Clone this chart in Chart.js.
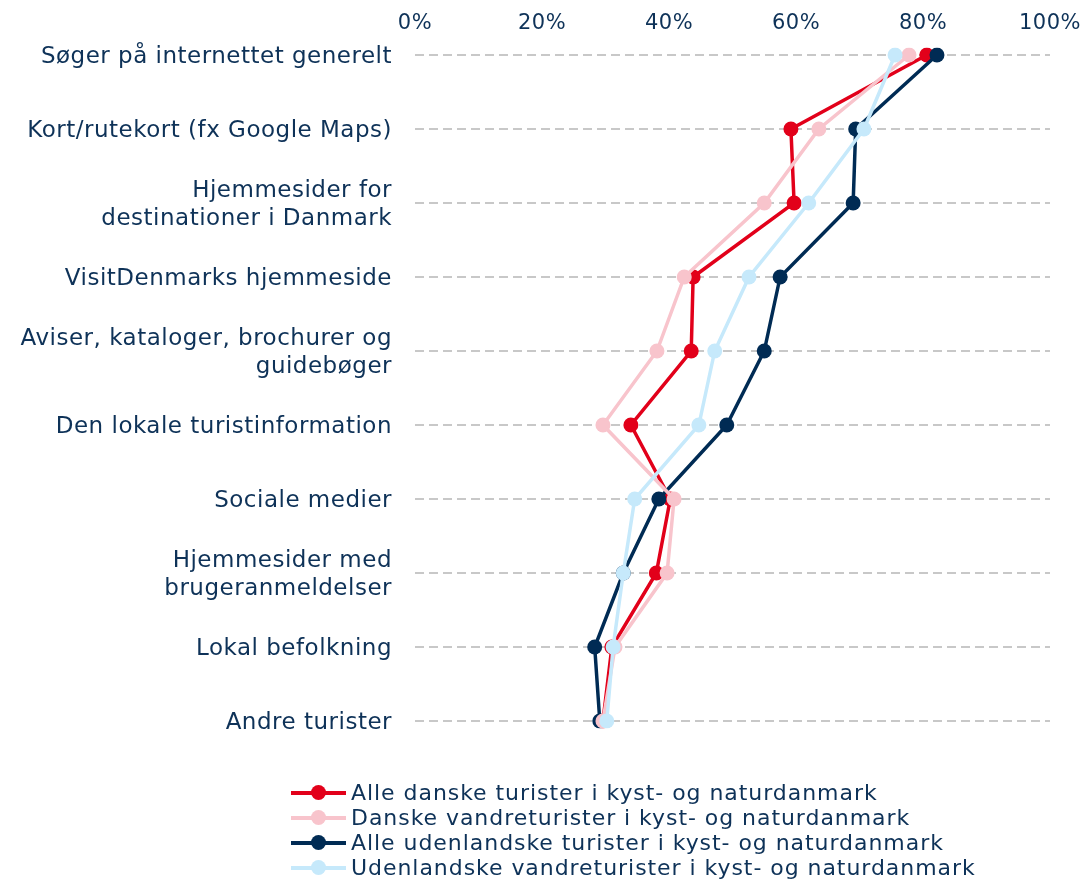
<!DOCTYPE html>
<html>
<head>
<meta charset="utf-8">
<script src="https://cdn.jsdelivr.net/npm/chart.js@4/dist/chart.umd.min.js"></script>
<style>
  body { margin: 0; background: #fff; }
  #wrap { position: relative; width: 1084px; height: 882px; }
  #legend { position: absolute; left: 291px; top: 780px; font-family: "DejaVu Sans", sans-serif; font-size: 22px; letter-spacing: 0.95px; color: #0e3258; }
  .item { display: flex; align-items: center; height: 25px; }
  .mark { position: relative; width: 55px; height: 15px; margin-right: 5px; flex: none; }
  .mark .ln { position: absolute; left: 0; right: 0; top: 5.5px; height: 4px; }
  .mark .dot { position: absolute; left: 20px; top: 0; width: 15px; height: 15px; border-radius: 50%; }
</style>
</head>
<body>
<div id="wrap">
  <canvas id="myChart" width="1084" height="882"></canvas>
  <div id="legend"></div>
</div>
<script>
// Categories (y axis) and series values in percent
const categories = [
    'Søger på internettet generelt',
    'Kort/rutekort (fx Google Maps)',
    ['Hjemmesider for', 'destinationer i Danmark'],
    'VisitDenmarks hjemmeside',
    ['Aviser, kataloger, brochurer og', 'guidebøger'],
    'Den lokale turistinformation',
    'Sociale medier',
    ['Hjemmesider med', 'brugeranmeldelser'],
    'Lokal befolkning',
    'Andre turister'
];
const seriesNames = [
    'Alle danske turister i kyst- og naturdanmark',
    'Danske vandreturister i kyst- og naturdanmark',
    'Alle udenlandske turister i kyst- og naturdanmark',
    'Udenlandske vandreturister i kyst- og naturdanmark'
];
const alleDanske = [80.6, 59.2, 59.7, 43.8, 43.5, 34, 40.2, 38, 31, 29.6];
const danskeVandre = [77.8, 63.6, 55, 42.4, 38.1, 29.6, 40.8, 39.7, 31.5, 29.6];
const alleUdenlandske = [82.2, 69.4, 69, 57.5, 55, 49.1, 38.4, 32.8, 28.3, 29.1];
const udenlandskeVandre = [75.6, 70.7, 62, 52.6, 47.2, 44.7, 34.6, 32.8, 31.2, 30.2];
const xTicks = [0, 20, 40, 60, 80, 100];

const colors = ['#e2001a', '#f8c4cc', '#002b54', '#c6e9fb'];
const textColor = '#0e3258';
const fontFamily = 'DejaVu Sans';

// Build datasets (order: lower is drawn on top)
const values = [alleDanske, danskeVandre, alleUdenlandske, udenlandskeVandre];
const drawOrder = [3, 1, 2, 0];
const datasets = values.map((vals, i) => ({
    label: seriesNames[i],
    data: vals.map((v, j) => ({ x: v, y: j })),
    borderColor: colors[i],
    backgroundColor: colors[i],
    borderWidth: 3.5,
    pointRadius: 7.5,
    pointBorderWidth: 0,
    pointHoverRadius: 7.5,
    tension: 0,
    order: drawOrder[i]
}));

// slightly wider text, the original font is broader than DejaVu
const spacingPlugin = {
    id: 'spacing',
    beforeDraw: (chart) => { chart.ctx.letterSpacing = '0.5px'; }
};

const ctx = document.getElementById('myChart').getContext('2d');
new Chart(ctx, {
    type: 'line',
    data: { labels: categories, datasets: datasets },
    plugins: [spacingPlugin],
    options: {
        responsive: false,
        animation: false,
        layout: { padding: { top: 10, right: 34, bottom: 161, left: 0 } },
        plugins: { legend: { display: false }, tooltip: { enabled: false } },
        scales: {
            x: {
                type: 'linear',
                position: 'top',
                min: 0,
                max: 100,
                afterBuildTicks: (s) => { s.ticks = xTicks.map(v => ({ value: v })); },
                afterFit: (s) => { s.height = 45; s.paddingLeft = 0; s.paddingRight = 0; },
                grid: { display: false, drawTicks: false },
                border: { display: false },
                ticks: {
                    color: textColor,
                    font: { family: fontFamily, size: 21 },
                    padding: 19,
                    maxRotation: 0,
                    callback: (v) => v + '%'
                }
            },
            y: {
                type: 'category',
                labels: categories,
                offset: false,
                afterFit: (s) => { s.width = 415; s.paddingTop = 0; s.paddingBottom = 0; },
                grid: { color: '#c8c8c8', lineWidth: 2, drawTicks: false },
                border: { display: false, dash: [9, 5] },
                ticks: {
                    color: textColor,
                    font: { family: fontFamily, size: 23, lineHeight: '28px' },
                    padding: 23,
                    labelOffset: 2,
                    autoSkip: false
                }
            }
        }
    }
});

// Legend as HTML below the chart
const legendDiv = document.getElementById('legend');
seriesNames.forEach((name, i) => {
    const item = document.createElement('div');
    item.className = 'item';
    item.innerHTML = '<span class="mark"><span class="ln" style="background:' + colors[i] + '"></span>' +
        '<span class="dot" style="background:' + colors[i] + '"></span></span><span>' + name + '</span>';
    legendDiv.appendChild(item);
});
</script>
</body>
</html>
